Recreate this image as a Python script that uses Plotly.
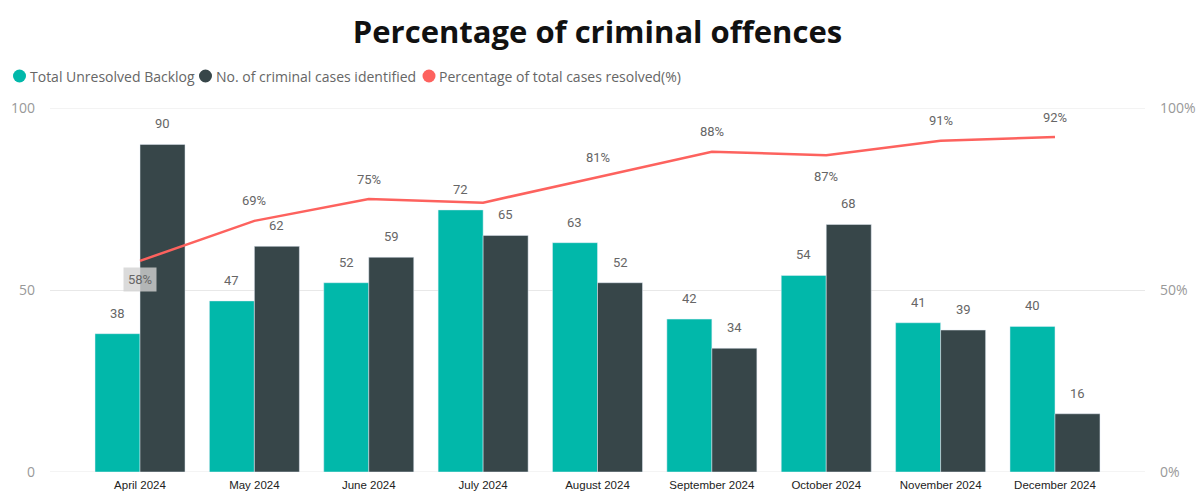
import plotly.graph_objects as go

months = ["April 2024", "May 2024", "June 2024", "July 2024", "August 2024",
          "September 2024", "October 2024", "November 2024", "December 2024"]
backlog = [38, 47, 52, 72, 63, 42, 54, 41, 40]
identified = [90, 62, 59, 65, 52, 34, 68, 39, 16]
resolved_pct = [58, 69, 75, 74, 81, 88, 87, 91, 92]
pct_labels = ["58%", "69%", "75%", "", "81%", "88%", "87%", "91%", "92%"]
pct_label_side = ["below", "above", "above", "above", "above", "above", "below", "above", "above"]
series_names = ["Total Unresolved Backlog", "No. of criminal cases identified",
                "Percentage of total cases resolved(%)"]

C_TEAL = "#01B8AA"
C_DARK = "#374649"
C_RED = "#FD625E"
colors = [C_TEAL, C_DARK, C_RED]
LBL_FONT = dict(family="Roboto, DejaVu Sans, sans-serif", size=13, color="#666666")

W, H = 1202, 492
ML, MR, MT, MB = 50, 57, 108, 20
PW, PH = W - ML - MR, H - MT - MB


def px_x(px):
    return (px - ML) / PW


def px_y(py):
    return (H - MB - py) / PH


fig = go.Figure()
fig.add_trace(go.Bar(x=months, y=backlog, marker_color=C_TEAL, name=series_names[0],
                     showlegend=False, offsetgroup="a"))
fig.add_trace(go.Bar(x=months, y=identified, marker_color=C_DARK, name=series_names[1],
                     showlegend=False, offsetgroup="b"))
fig.add_trace(go.Scatter(x=months, y=resolved_pct, yaxis="y2", mode="lines",
                         line=dict(color=C_RED, width=2.5), showlegend=False,
                         name=series_names[2]))

n = len(months)
half = 0.197
annotations = []
for i in range(n):
    annotations.append(dict(x=i - half, y=backlog[i], xref="x", yref="y", text=str(backlog[i]),
                            showarrow=False, yanchor="bottom", yshift=11, font=LBL_FONT))
    annotations.append(dict(x=i + half, y=identified[i], xref="x", yref="y", text=str(identified[i]),
                            showarrow=False, yanchor="bottom", yshift=11, font=LBL_FONT))
    if pct_labels[i]:
        above = pct_label_side[i] == "above"
        a = dict(x=i, y=resolved_pct[i], xref="x", yref="y2", text=pct_labels[i],
                 showarrow=False, yanchor="middle", yshift=20 if above else -21, font=LBL_FONT)
        if i == 0:
            a.update(bgcolor="rgba(210,210,210,0.8)", borderpad=4, yshift=-19)
        annotations.append(a)

# legend (circle swatch + text)
shapes = []
legend_circle_px = [19.5, 205.5, 429]
legend_y = px_y(76)
for k, nm in enumerate(series_names):
    cx = px_x(legend_circle_px[k])
    shapes.append(dict(type="circle", xref="paper", yref="paper", xsizemode="pixel", ysizemode="pixel",
                       xanchor=cx, yanchor=legend_y, x0=-6.5, x1=6.5, y0=-6.5, y1=6.5,
                       fillcolor=colors[k], line=dict(width=0)))
    annotations.append(dict(x=px_x(legend_circle_px[k] + 8), y=legend_y, xref="paper", yref="paper",
                            text=nm, showarrow=False, xanchor="left", yanchor="middle",
                            font=dict(family="Open Sans, sans-serif", size=14, color="#666666")))

# horizontal gridlines at range edges
for gv in [0, 100]:
    shapes.append(dict(type="line", xref="paper", yref="y", x0=0, x1=1, y0=gv, y1=gv,
                       line=dict(color="#E8E8E8", width=1), layer="below"))

fig.update_layout(
    width=W, height=H,
    margin=dict(l=ML, r=MR, t=MT, b=MB, autoexpand=False),
    paper_bgcolor="white", plot_bgcolor="white",
    showlegend=False,
    title=dict(text="<b>Percentage of criminal offences</b>", x=0.5, xref="paper", xanchor="center",
               y=0.935, yanchor="middle",
               font=dict(family="Open Sans, sans-serif", size=31, color="#111111")),
    barmode="group", bargap=0.213, bargroupgap=0,
    xaxis=dict(type="category", range=[-0.787, n - 1 + 0.787], showgrid=False, zeroline=False,
               showline=False, ticks="", automargin=False, ticklabelstandoff=4,
               tickfont=dict(family="Liberation Sans, Arial, sans-serif", size=11.5, color="#222222")),
    yaxis=dict(range=[0, 100], tickvals=[0, 50, 100], showgrid=True, gridcolor="#E8E8E8",
               gridwidth=1, zeroline=False, ticks="", ticklabelstandoff=14, automargin=False,
               tickfont=dict(family="Open Sans, sans-serif", size=14, color="#999999")),
    yaxis2=dict(range=[0, 100], overlaying="y", side="right", tickvals=[0, 50, 100],
                ticktext=["0%", "50%", "100%"], showgrid=False, zeroline=False, ticks="",
                ticklabelstandoff=14, automargin=False,
                tickfont=dict(family="Open Sans, sans-serif", size=14, color="#999999")),
    annotations=annotations,
    shapes=shapes,
)

fig.write_html("out.html")
